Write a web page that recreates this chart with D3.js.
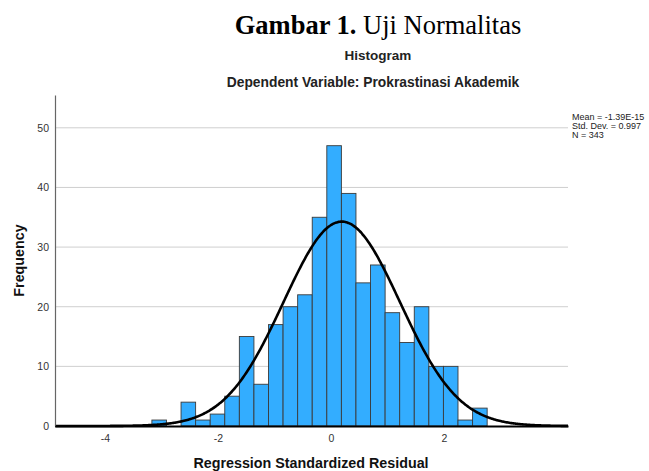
<!DOCTYPE html>
<html>
<head>
<meta charset="utf-8">
<script src="https://cdn.jsdelivr.net/npm/d3@7"></script>
<style>
  body { margin: 0; background: #fff; }
  svg { display: block; }
</style>
</head>
<body>
<div id="chart"></div>
<script>
// histogram counts
const binStart = -3.17;
const binWidth = 0.258;
const counts = [1, 0, 4, 1, 2, 5, 15, 7, 17, 20, 22, 35, 47, 39, 24, 27, 19, 14, 20, 10, 10, 1, 3];
const xTicks = [-4, -2, 0, 2];
const yTicks = [0, 10, 20, 30, 40, 50];
const statsLines = ['Mean = -1.39E-15', 'Std. Dev. = 0.997', 'N = 343'];
// fitted normal curve as it appears in the picture
const curveMean = 0.19;
const curveSd = 1.03;
const nObs = 343;

const width = 649, height = 471;
const margin = {top: 95, right: 81, bottom: 45, left: 55};
const sans = '"Liberation Sans", Arial, sans-serif';

const svg = d3.select('#chart').append('svg')
    .attr('width', width)
    .attr('height', height);

const x = d3.scaleLinear()
    .domain([-4.885, 4.195])
    .range([margin.left, width - margin.right]);

const y = d3.scaleLinear()
    .domain([0, 55.5])
    .range([height - margin.bottom, margin.top]);

const bins = counts.map((c, i) => ({x0: binStart + i * binWidth, x1: binStart + (i + 1) * binWidth, n: c}));

// titles
svg.append('text')
    .attr('x', 378).attr('y', 34)
    .attr('text-anchor', 'middle')
    .style('font-family', '"Liberation Serif", "Times New Roman", serif')
    .style('font-size', '26.5px')
    .style('fill', '#000')
    .call(t => {
      t.append('tspan').style('font-weight', 'bold').text('Gambar 1.');
      t.append('tspan').text(' Uji Normalitas');
    });

svg.append('text')
    .attr('x', 378).attr('y', 60)
    .attr('text-anchor', 'middle')
    .style('font-family', sans)
    .style('font-size', '13.5px')
    .style('font-weight', 'bold')
    .style('fill', '#222')
    .text('Histogram');

svg.append('text')
    .attr('x', 373).attr('y', 87)
    .attr('text-anchor', 'middle')
    .style('font-family', sans)
    .style('font-size', '13.8px')
    .style('font-weight', 'bold')
    .style('fill', '#222')
    .text('Dependent Variable: Prokrastinasi Akademik');

// gridlines
svg.append('g')
    .selectAll('line')
    .data(yTicks.filter(d => d > 0))
    .enter()
    .append('line')
    .attr('x1', x.range()[0])
    .attr('x2', x.range()[1])
    .attr('y1', d => y(d))
    .attr('y2', d => y(d))
    .style('stroke', '#cfcfcf')
    .style('stroke-width', 1);

// bars
svg.append('g')
    .selectAll('rect')
    .data(bins.filter(d => d.n > 0))
    .enter()
    .append('rect')
    .attr('x', d => x(d.x0))
    .attr('y', d => y(d.n))
    .attr('width', d => x(d.x1) - x(d.x0))
    .attr('height', d => y(0) - y(d.n))
    .style('fill', '#33adff')
    .style('stroke', '#3a3a3a')
    .style('stroke-width', 0.9);

// normal curve
const curveX = d3.range(x.domain()[0], x.domain()[1] + 0.001, 0.02);
const scaleFactor = nObs * binWidth / (curveSd * Math.sqrt(2 * Math.PI));
const curve = d3.line()
    .x(d => x(d))
    .y(d => y(scaleFactor * Math.exp(-0.5 * ((d - curveMean) / curveSd) ** 2)))
    .curve(d3.curveBasis);

svg.append('path')
    .datum(curveX)
    .attr('d', curve)
    .style('fill', 'none')
    .style('stroke', '#000')
    .style('stroke-width', 2.6);

// axes
const yAxis = svg.append('g')
    .attr('transform', `translate(${margin.left},0)`)
    .call(d3.axisLeft(y).tickValues(yTicks).tickSize(0).tickPadding(6));
yAxis.select('.domain').style('stroke', '#666').style('stroke-width', 1.2);
yAxis.selectAll('text')
    .style('font-family', sans)
    .style('font-size', '10.5px')
    .style('fill', '#333');

const xAxis = svg.append('g')
    .attr('transform', `translate(0,${y(0)})`)
    .call(d3.axisBottom(x).tickValues(xTicks).tickFormat(d => String(d)).tickSize(0).tickPadding(9));
xAxis.select('.domain').style('stroke', '#000').style('stroke-width', 2);
xAxis.selectAll('text')
    .style('font-family', sans)
    .style('font-size', '10.5px')
    .style('fill', '#333');

// axis titles
svg.append('text')
    .attr('transform', `translate(24,${(y(0) + margin.top) / 2}) rotate(-90)`)
    .attr('text-anchor', 'middle')
    .style('font-family', sans)
    .style('font-size', '14.3px')
    .style('font-weight', 'bold')
    .style('fill', '#111')
    .text('Frequency');

svg.append('text')
    .attr('x', 311).attr('y', 468)
    .attr('text-anchor', 'middle')
    .style('font-family', sans)
    .style('font-size', '14.3px')
    .style('font-weight', 'bold')
    .style('fill', '#111')
    .text('Regression Standardized Residual');

// stats box
svg.append('g')
    .selectAll('text')
    .data(statsLines)
    .enter()
    .append('text')
    .attr('x', 572)
    .attr('y', (d, i) => 120 + i * 9)
    .style('font-family', sans)
    .style('font-size', '9px')
    .style('fill', '#222')
    .text(d => d);
</script>
</body>
</html>
